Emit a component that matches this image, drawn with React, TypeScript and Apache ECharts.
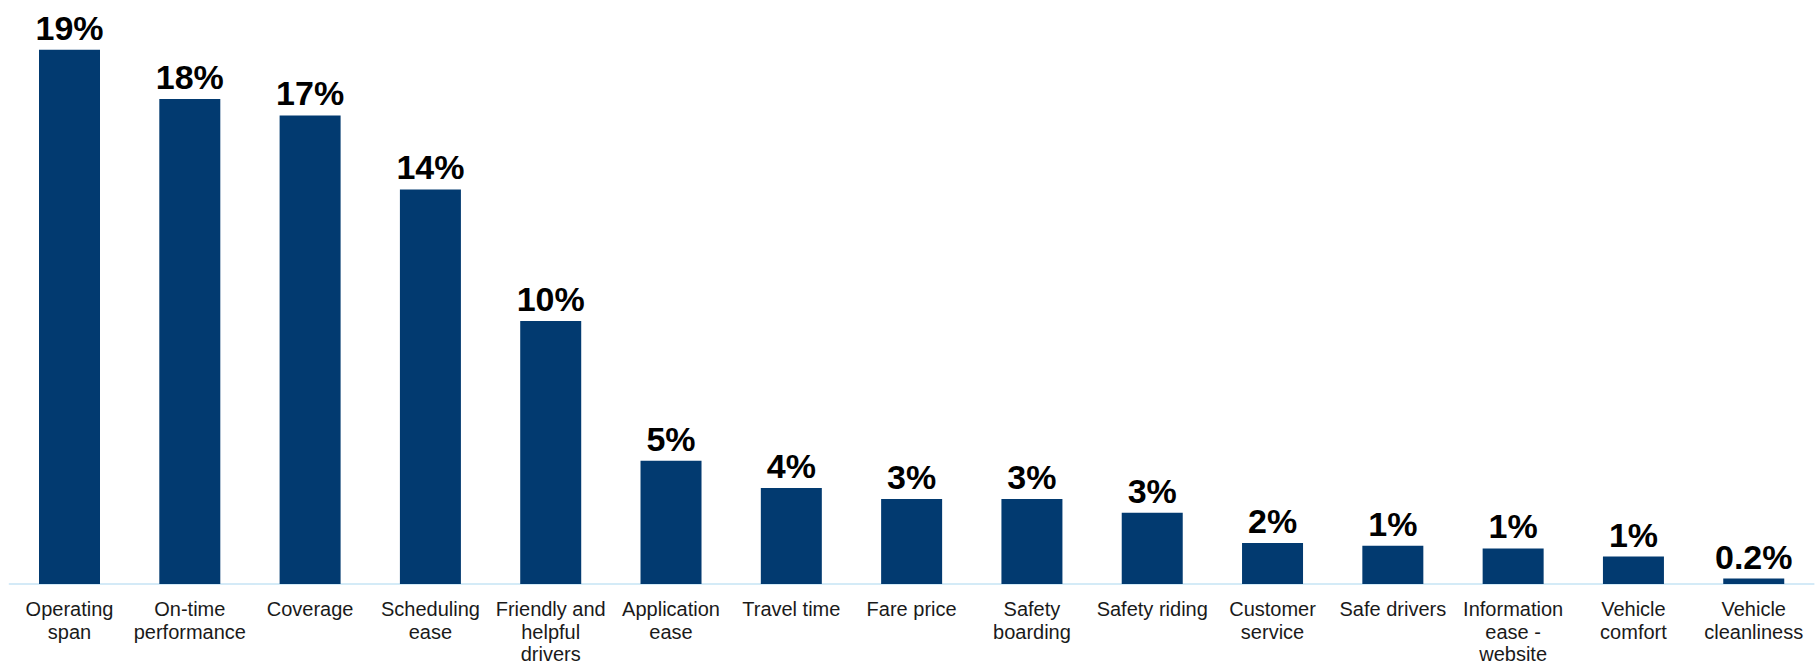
import React, { useEffect, useRef } from "react";
import * as echarts from "echarts";

const categories: string[] = [
  "Operating\nspan",
  "On-time\nperformance",
  "Coverage",
  "Scheduling\nease",
  "Friendly and\nhelpful\ndrivers",
  "Application\nease",
  "Travel time",
  "Fare price",
  "Safety\nboarding",
  "Safety riding",
  "Customer\nservice",
  "Safe drivers",
  "Information\nease -\nwebsite",
  "Vehicle\ncomfort",
  "Vehicle\ncleanliness",
];

const values: number[] = [19.5, 17.7, 17.1, 14.4, 9.6, 4.5, 3.5, 3.1, 3.1, 2.6, 1.5, 1.4, 1.3, 1.0, 0.2];

const valueLabels: string[] = ["19%", "18%", "17%", "14%", "10%", "5%", "4%", "3%", "3%", "3%", "2%", "1%", "1%", "1%", "0.2%"];

const FONT = "'Liberation Sans', Arial, sans-serif";

export default function App() {
  const ref = useRef<HTMLDivElement>(null);
  useEffect(() => {
    if (!ref.current) return;
    const chart = echarts.init(ref.current, undefined, { renderer: "svg" });
    chart.setOption({
      animation: false,
      backgroundColor: "#ffffff",
      grid: { left: 9.35, right: 3.1, top: 36, bottom: 84, containLabel: false },
      xAxis: {
        type: "category",
        data: categories,
        axisLine: { show: true, lineStyle: { color: "#c6e4f5", width: 1.5 } },
        axisTick: { show: false },
        axisLabel: {
          interval: 0,
          margin: 14,
          color: "#1a1a1a",
          fontFamily: FONT,
          fontSize: 20,
          lineHeight: 22.5,
          align: "center",
          verticalAlign: "top",
        },
      },
      yAxis: {
        type: "value",
        min: 0,
        max: 20,
        show: false,
        splitLine: { show: false },
      },
      series: [
        {
          type: "bar",
          data: values,
          barWidth: 61,
          itemStyle: { color: "#023a70" },
          label: {
            show: true,
            position: "top",
            distance: 5,
            color: "#000000",
            fontFamily: FONT,
            fontWeight: "bold",
            fontSize: 34,
            formatter: (p: any) => valueLabels[p.dataIndex],
          },
        },
      ],
    });
    return () => chart.dispose();
  }, []);
  return (
    <div
      ref={ref}
      style={{ position: "fixed", left: 0, top: 0, width: 1817, height: 668, background: "#fff" }}
    />
  );
}
